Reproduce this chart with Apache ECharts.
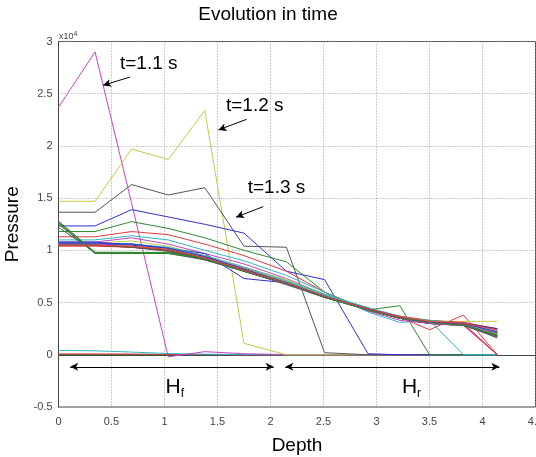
<!DOCTYPE html>
<html>
<head>
<meta charset="utf-8">
<script src="https://cdn.jsdelivr.net/npm/echarts@6/dist/echarts.min.js"></script>
<style>
  html, body { margin: 0; padding: 0; background: #fff; }
  #main { width: 536px; height: 457px; }
</style>
</head>
<body>
<div id="main"></div>
<script>
// depth nodes (x) and pressure profiles (x10^4)
const depth = [0, 0.345, 0.69, 1.035, 1.38, 1.75, 2.15, 2.51, 2.92, 3.22, 3.50, 3.82, 4.14];

const c01 = [0.003, 0.003, 0.003, 0.002, 0, 0, 0, 0, 0, 0, 0, 0, 0];
const c02 = [0.002, 0.002, 0.002, 0.001, 0, 0, 0, 0, 0, 0, 0, 0, 0];
const c03 = [0.008, 0.008, 0.007, 0.004, 0.002, 0, 0, 0, 0, 0, 0, 0, 0];
const c04 = [0.042, 0.038, 0.026, 0.012, 0.006, 0.002, 0, 0, 0, 0, 0, 0, 0];
const c05 = [2.37, 2.90, 1.45, -0.02, 0.03, 0.01, 0.002, 0, 0, 0, 0, 0, 0];   // t=1.1 s
const c06 = [1.47, 1.47, 1.97, 1.87, 2.34, 0.11, 0, 0, 0, 0, 0, 0, 0];        // t=1.2 s
const c07 = [1.365, 1.365, 1.63, 1.53, 1.60, 1.04, 1.03, 0.02, 0, 0, 0, 0, 0]; // t=1.3 s
const c08 = [1.234, 1.234, 1.39, 1.32, 1.25, 1.165, 0.80, 0.72, 0.01, 0, 0, 0, 0];
const c09 = [1.18, 1.18, 1.275, 1.21, 1.12, 1.00, 0.89, 0.60, 0.43, 0.47, 0, 0, 0];
const c10 = [1.13, 1.13, 1.18, 1.15, 1.06, 0.95, 0.80, 0.60, 0.42, 0.36, 0.24, 0.38, 0];
const c11 = [1.10, 1.10, 1.14, 1.10, 1.00, 0.90, 0.76, 0.60, 0.41, 0.31, 0.33, 0, 0];
const c12 = [1.08, 1.08, 1.12, 1.06, 0.97, 0.87, 0.73, 0.58, 0.42, 0.33, 0.30, 0.28, 0];
const c13 = [1.07, 1.07, 1.09, 1.04, 0.95, 0.84, 0.72, 0.58, 0.43, 0.35, 0.32, 0.32, 0.32];
const c14 = [1.27, 0.98, 0.98, 0.97, 0.91, 0.81, 0.70, 0.57, 0.44, 0.35, 0.30, 0.28, 0.19];
const c15 = [1.08, 1.08, 1.05, 1.02, 0.97, 0.73, 0.69, 0.57, 0.44, 0.36, 0.31, 0.29, 0.22];
const c16 = [1.25, 0.97, 0.97, 0.97, 0.92, 0.81, 0.69, 0.56, 0.44, 0.35, 0.31, 0.28, 0.18];
const c17 = [1.06, 1.06, 1.04, 1.01, 0.94, 0.83, 0.70, 0.57, 0.45, 0.36, 0.31, 0.29, 0];
const c18 = [1.05, 1.05, 1.06, 1.03, 0.95, 0.84, 0.71, 0.58, 0.45, 0.37, 0.31, 0.30, 0.21];
const c19 = [1.07, 1.07, 1.06, 1.02, 0.94, 0.82, 0.69, 0.56, 0.43, 0.35, 0.30, 0.29, 0];
const c20 = [1.06, 1.06, 1.05, 1.02, 0.93, 0.82, 0.70, 0.57, 0.44, 0.36, 0.31, 0.30, 0.24];
const c21 = [1.22, 0.98, 0.98, 0.98, 0.91, 0.80, 0.68, 0.56, 0.44, 0.35, 0.30, 0.28, 0.17];
const c22 = [1.07, 1.07, 1.06, 1.02, 0.93, 0.81, 0.68, 0.56, 0.44, 0.35, 0.30, 0.31, 0.24];
const c23 = [1.05, 1.05, 1.03, 1.00, 0.92, 0.81, 0.68, 0.55, 0.43, 0.35, 0.32, 0.29, 0.20];
const c24 = [1.05, 1.05, 1.04, 1.01, 0.93, 0.82, 0.69, 0.56, 0.44, 0.37, 0.33, 0.31, 0.25];
const c25 = [1.06, 1.06, 1.05, 1.01, 0.93, 0.82, 0.70, 0.57, 0.45, 0.36, 0.33, 0.30, 0.22];
const c26 = [1.05, 1.05, 1.03, 1.00, 0.92, 0.80, 0.67, 0.55, 0.43, 0.35, 0.31, 0.29, 0.24];
const c27 = [1.05, 1.05, 1.04, 1.00, 0.92, 0.81, 0.68, 0.56, 0.44, 0.36, 0.32, 0.29, 0.19];
const c28 = [1.05, 1.05, 1.03, 0.99, 0.91, 0.80, 0.68, 0.55, 0.43, 0.35, 0.31, 0.29, 0.16];
const c29 = [1.06, 1.06, 1.05, 1.01, 0.93, 0.81, 0.68, 0.56, 0.44, 0.36, 0.32, 0.30, 0.25];
const c30 = [1.26, 0.97, 0.97, 0.98, 0.92, 0.80, 0.68, 0.55, 0.43, 0.35, 0.31, 0.29, 0.18];
const c31 = [1.04, 1.04, 1.03, 1.00, 0.92, 0.81, 0.69, 0.56, 0.44, 0.36, 0.32, 0.30, 0];
const c32 = [1.07, 1.07, 1.06, 1.02, 0.94, 0.82, 0.69, 0.56, 0.44, 0.36, 0.31, 0.29, 0.21];
const c33 = [1.06, 1.06, 1.04, 1.01, 0.93, 0.81, 0.69, 0.56, 0.44, 0.35, 0.30, 0.28, 0.21];
const c34 = [1.05, 1.05, 1.04, 1.01, 0.93, 0.82, 0.69, 0.56, 0.44, 0.36, 0.32, 0.30, 0.23];
const c35 = [1.05, 1.05, 1.03, 1.00, 0.92, 0.80, 0.68, 0.55, 0.43, 0.35, 0.31, 0.29, 0.18];
const c36 = [1.07, 1.07, 1.06, 1.02, 0.94, 0.82, 0.69, 0.56, 0.44, 0.36, 0.31, 0.30, 0.22];
const c37 = [1.28, 0.98, 0.98, 0.98, 0.92, 0.80, 0.68, 0.55, 0.43, 0.35, 0.31, 0.28, 0.19];
const c38 = [1.05, 1.05, 1.04, 1.01, 0.93, 0.81, 0.69, 0.56, 0.44, 0.36, 0.32, 0.30, 0.24];

const curves = [c01, c02, c03, c04, c05, c06, c07, c08, c09, c10, c11, c12, c13, c14, c15, c16, c17, c18, c19,
    c20, c21, c22, c23, c24, c25, c26, c27, c28, c29, c30, c31, c32, c33, c34, c35, c36, c37, c38];

// matlab style colour cycle
const palette = ['#2f2fd0', '#2e8a2e', '#e03a3a', '#2fb6c0', '#c445c4', '#c8c84a', '#555555'];

// annotations: label anchor, arrow from -> to (data coords)
const notes = [
    { text: 't=1.1 s', at: [0.58, 2.79], from: [0.675, 2.66], to: [0.42, 2.58] },
    { text: 't=1.2 s', at: [1.58, 2.38], from: [1.775, 2.255], to: [1.508, 2.153] },
    { text: 't=1.3 s', at: [1.785, 1.595], from: [1.932, 1.419], to: [1.675, 1.318] }
];
const spans = [
    { text: 'H{s|f}', at: [1.01, -0.31], from: [0.11, -0.115], to: [2.03, -0.115] },
    { text: 'H{s|r}', at: [3.24, -0.31], from: [2.14, -0.115], to: [4.16, -0.115] }
];

const font = 'Liberation Sans, Arial, sans-serif';
const chart = echarts.init(document.getElementById('main'));

let series = curves.map((vals, i) => ({
    type: 'line',
    data: vals.map((v, j) => [depth[j], v]),
    showSymbol: false,
    silent: true,
    lineStyle: { width: 1, color: palette[i % palette.length] },
    z: 2
}));

series.push({
    type: 'line',
    data: [],
    silent: true,
    markLine: {
        silent: true,
        animation: false,
        label: { show: false },
        lineStyle: { color: '#000', width: 1, type: 'solid' },
        data: notes.map(n => [
            { coord: n.from, symbol: 'none' },
            { coord: n.to, symbol: 'arrow', symbolSize: [6, 8] }
        ]).concat(spans.map(s => [
            { coord: s.from, symbol: 'arrow', symbolSize: [6, 8] },
            { coord: s.to, symbol: 'arrow', symbolSize: [6, 8] }
        ]))
    },
    z: 5
});

const option = {
    animation: false,
    backgroundColor: '#fff',
    title: {
        text: 'Evolution in time',
        left: 'center',
        top: 0,
        textStyle: { fontFamily: font, fontSize: 19, fontWeight: 'normal', color: '#000' }
    },
    grid: {
        left: 58.5, right: 0.5, top: 41.5, bottom: 50,
        outerBoundsMode: 'none',
        containLabel: false,
        show: true, borderColor: '#444', borderWidth: 1
    },
    xAxis: {
        type: 'value',
        min: 0, max: 4.5, interval: 0.5,
        name: 'Depth',
        nameLocation: 'middle',
        nameGap: 29,
        nameTextStyle: { fontFamily: font, fontSize: 19, color: '#000' },
        axisLine: { show: true, lineStyle: { color: '#444' } },
        axisTick: { show: false },
        axisLabel: { fontFamily: font, fontSize: 11, color: '#444', margin: 9, showMaxLabel: true },
        splitLine: { show: true, lineStyle: { color: '#999', type: [1, 2] } }
    },
    yAxis: {
        type: 'value',
        min: -0.5, max: 3, interval: 0.5,
        name: 'Pressure',
        nameLocation: 'middle',
        nameGap: 20,
        nameTextStyle: { fontFamily: font, fontSize: 19, color: '#000' },
        axisLine: { show: true, lineStyle: { color: '#444' } },
        axisTick: { show: false },
        axisLabel: { fontFamily: font, fontSize: 11, color: '#444', margin: 6 },
        splitLine: { show: true, lineStyle: { color: '#999', type: [1, 2] } }
    },
    series: series
};

chart.setOption(option);

// place the text notes after the axes exist
const graphic = [{
    type: 'text',
    left: 59, top: 31,
    style: {
        text: 'x10{p|4}', fontFamily: font, fontSize: 9, fill: '#444',
        rich: { p: { fontSize: 7, verticalAlign: 'top', padding: [0, 0, 4, 0] } }
    }
}];
notes.forEach(n => {
    const p = chart.convertToPixel({ gridIndex: 0 }, n.at);
    graphic.push({
        type: 'text', x: p[0], y: p[1],
        style: { text: n.text, fontFamily: font, fontSize: 19, fill: '#000', textVerticalAlign: 'middle' }
    });
});
spans.forEach(s => {
    const p = chart.convertToPixel({ gridIndex: 0 }, s.at);
    graphic.push({
        type: 'text', x: p[0], y: p[1],
        style: {
            text: s.text, fontFamily: font, fontSize: 21, fill: '#000', textVerticalAlign: 'middle',
            rich: { s: { fontSize: 12, padding: [14, 0, 0, 0] } }
        }
    });
});
chart.setOption({ graphic: graphic });
</script>
</body>
</html>
